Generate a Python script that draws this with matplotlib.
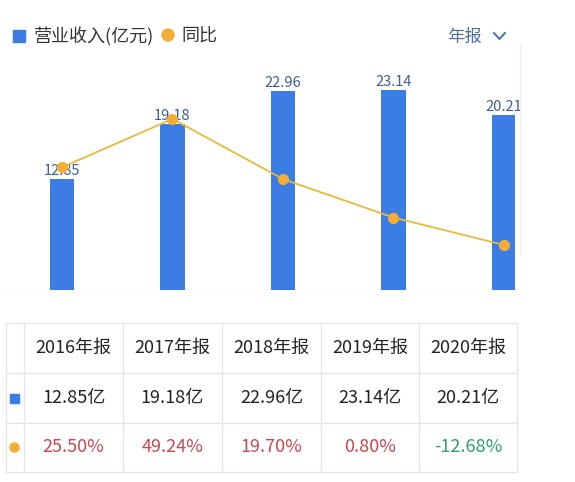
import matplotlib.pyplot as plt
from matplotlib.patches import Rectangle, Circle

plt.rcParams['font.family'] = ['Noto Sans CJK SC', 'DejaVu Sans']

# data
years = ['2016年报', '2017年报', '2018年报', '2019年报', '2020年报']
revenue = [12.85, 19.18, 22.96, 23.14, 20.21]   # 亿元
growth = [25.50, 49.24, 19.70, 0.80, -12.68]     # 同比 %

BLUE = '#3b7de3'
ORANGE = '#f5ad33'
LINE = '#ebb83a'
LABEL = '#3a5e95'
RED = '#c9464f'
GREEN = '#2f9e72'
GRID = '#e6e6e6'

W, H = 575, 482
fig = plt.figure(figsize=(W / 100, H / 100), dpi=100)
fig.patch.set_facecolor('white')

# chart area: y pixel 60..290, x pixel 5..515
ax = fig.add_axes([5 / W, (H - 290) / H, 510 / W, 230 / H])
x = list(range(len(years)))
bars = ax.bar(x, revenue, width=0.22, color=BLUE, zorder=2)
ax.set_xlim(-0.516, 4.1)
ax.set_ylim(0, 26.6)
for b, v in zip(bars, revenue):
    ax.text(b.get_x() + b.get_width() / 2, v + 0.15, f'{v:.2f}', ha='center', va='bottom',
            fontsize=10.5, color=LABEL, zorder=5)
ax.axis('off')
ax.axhline(0, color=GRID, lw=1, xmin=0, xmax=1, zorder=1)

ax2 = ax.twinx()
ax2.set_ylim(-34.8, 78.2)
ax2.plot(x, growth, color=LINE, lw=1.3, marker='o', markersize=7,
         markerfacecolor=ORANGE, markeredgecolor=ORANGE, zorder=4)
ax2.axis('off')

# overlay in pixel coordinates for legend and table
ov = fig.add_axes([0, 0, 1, 1], zorder=10)
ov.set_xlim(0, W)
ov.set_ylim(H, 0)
ov.axis('off')
ov.patch.set_alpha(0)

# legend
ov.add_patch(Rectangle((13, 30), 12, 12, color=BLUE))
ov.text(34, 37, '营业收入(亿元)', fontsize=13, color='#333333', va='center', ha='left')
ov.add_patch(Circle((168, 35), 6, color=ORANGE))
ov.text(181, 37, '同比', fontsize=13, color='#333333', va='center', ha='left')
ov.text(447, 37, '年报', fontsize=12.5, color='#4a6fa5', va='center', ha='left')
ov.plot([494, 499.5, 505], [33, 39, 33], color='#4a6fa5', lw=1.4)

# faint card edge on the right
ov.plot([520, 520], [45, 255], color='#f0f0f0', lw=1)

# table
col_edges = [6, 24, 123, 222, 321, 419, 517]
row_edges = [323, 373, 423, 472]
for xe in col_edges:
    ov.plot([xe, xe], [row_edges[0], row_edges[-1]], color=GRID, lw=1)
for ye in row_edges:
    ov.plot([col_edges[0], col_edges[-1]], [ye, ye], color=GRID, lw=1)

centers = [(col_edges[i] + col_edges[i + 1]) / 2 for i in range(1, len(col_edges) - 1)]
row_mid = [(row_edges[i] + row_edges[i + 1]) / 2 for i in range(3)]
for cx, yr, rv, g in zip(centers, years, revenue, growth):
    ov.text(cx, row_mid[0], yr, fontsize=13, color='#222222', ha='center', va='center')
    ov.text(cx, row_mid[1], f'{rv:.2f}亿', fontsize=13, color='#222222', ha='center', va='center')
    ov.text(cx, row_mid[2], f'{g:.2f}%', fontsize=13, color=RED if g >= 0 else GREEN,
            ha='center', va='center')

ov.add_patch(Rectangle((10, row_mid[1] - 4.5), 9, 9, color=BLUE))
ov.add_patch(Circle((14.5, row_mid[2]), 4.5, color=ORANGE))

fig.savefig('out.png', dpi=100)
